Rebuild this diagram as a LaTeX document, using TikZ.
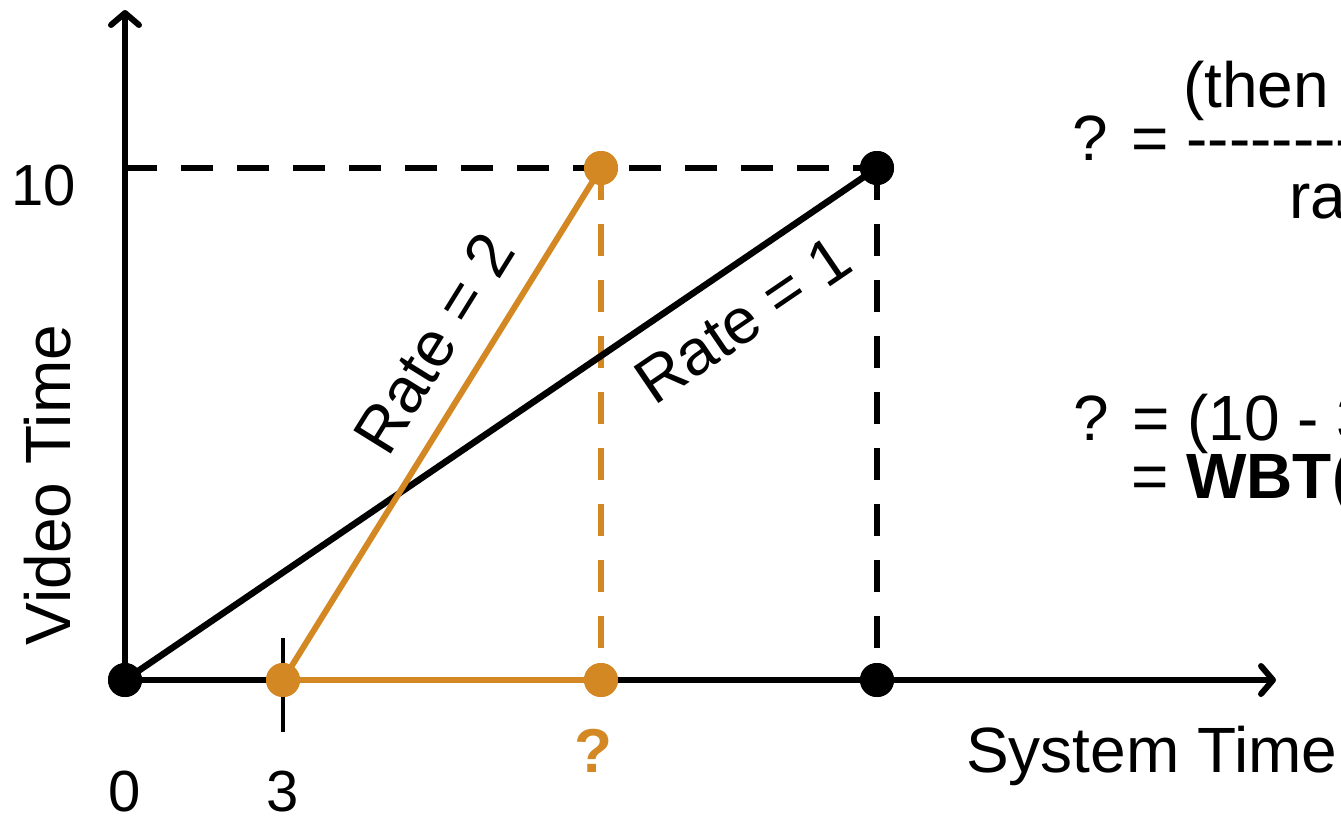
\documentclass[tikz,border=0pt]{standalone}
\usepackage{fontspec}
\setmainfont{Liberation Sans}
\usetikzlibrary{arrows.meta}
\definecolor{orng}{HTML}{D38824}
\tikzset{
  lbl/.style={font=\fontsize{64}{74}\selectfont, inner sep=0pt},
  num/.style={font=\fontsize{58}{68}\selectfont, inner sep=0pt},
  axis/.style={line width=6pt, -{Straight Barb[round,length=12pt,width=28pt]}},
  blk/.style={line width=6.5pt, black},
  org/.style={line width=6pt, orng},
  dsh/.style={line width=6.5pt, dash pattern=on 32pt off 24pt},
  bdot/.style={circle, fill=black, minimum size=34pt, inner sep=0pt},
  odot/.style={circle, fill=orng, minimum size=34pt, inner sep=0pt},
}
\newcommand{\hyrow}{-{}-{}-{}-{}-{}-{}-{}-{}-{}-{}-{}-{}-{}-{}-{}-{}-{}-{}}
\begin{document}
\begin{tikzpicture}[x=1pt,y=-1pt]
\useasboundingbox (0,0) rectangle (1341,815);
\clip (0,0) rectangle (1341,815);
% coordinates
\coordinate (O) at (125,680);
\coordinate (Ytop) at (125,10);
\coordinate (Xend) at (1276,680);
\coordinate (Y10) at (125,168);
\coordinate (T3top) at (283,638);
\coordinate (T3bot) at (283,732);
% axes
\draw[axis] (O) -- (Ytop);
\draw[axis] (O) -- (Xend);
\draw[line width=4.5pt] (T3top) -- (T3bot);
% dot positions
\node[bdot] (o) at (125,680) {};
\node[bdot] (b1) at (877,680) {};
\node[bdot] (b2) at (877,168) {};
\node[odot] (a) at (283,680) {};
\node[odot] (q) at (601,680) {};
\node[odot] (t) at (601,168) {};
% dashed guides
\draw[dsh] (Y10) -- (b2.center);
\draw[dsh] (b2.center) -- (b1.center);
\draw[dsh, orng] (t.center) -- (q.center);
% lines
\draw[blk] (o.center) -- (b2.center);
\draw[org] (a.center) -- (t.center);
\draw[org] (a.center) -- (q.center);
% redraw dots on top
\node[bdot] at (125,680) {};
\node[bdot] at (877,680) {};
\node[bdot] at (877,168) {};
\node[odot] at (283,680) {};
\node[odot] at (601,680) {};
\node[odot] at (601,168) {};
% labels
\node[num, anchor=base east] (l10) at (76,205) {10};
\node[num, anchor=base] (l0) at (125,811) {0};
\node[num, anchor=base] (l3) at (283,811) {3};
\node[lbl, anchor=base, text=orng, font=\fontsize{62}{72}\selectfont\bfseries] (lq) at (593,772) {?};
\node[lbl, rotate=90] (vt) at (48,485) {Video Time};
\node[lbl, anchor=base west] (st) at (966,772) {System Time};
\node[lbl, rotate=58.2] (r2) at (434,343) {Rate = 2};
\node[lbl, rotate=34.2] (r1) at (743,320) {Rate = 1};
% formulas
\node[lbl, anchor=base west] (f1) at (1072,160) {? = \hyrow};
\node[lbl, anchor=base west] (f1n) at (1183,107) {(then - now)};
\node[lbl, anchor=base west] (f1d) at (1289,218) {rate};
\node[lbl, anchor=base west] (f2) at (1073,440) {? = (10 - 3) / 2};
\node[lbl, anchor=base west] (f3) at (1131,498) {= \textbf{WBT(3)}};
\end{tikzpicture}
\end{document}
